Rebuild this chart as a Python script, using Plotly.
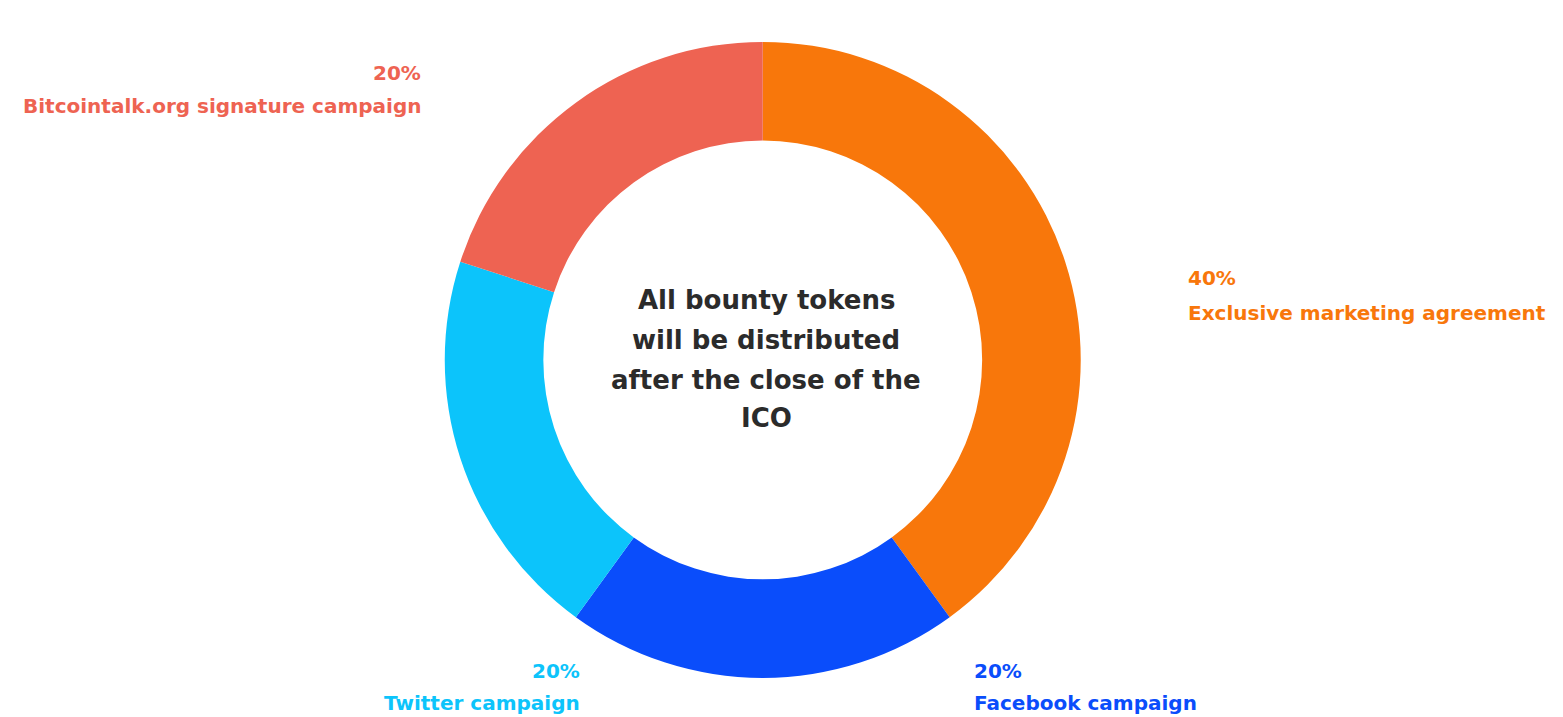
import plotly.graph_objects as go

labels = ["Exclusive marketing agreement", "Facebook campaign", "Twitter campaign", "Bitcointalk.org signature campaign"]
values = [40, 20, 20, 20]
colors = ["#F8770B", "#0A4DFB", "#0CC4FB", "#EE6352"]
center_lines = ["All bounty tokens", "will be distributed", "after the close of the", "ICO"]

W, H = 1563, 717
FONT = "DejaVu Sans"

fig = go.Figure()
fig.add_trace(go.Pie(
    labels=labels, values=values, hole=0.69, sort=False, direction="clockwise",
    rotation=0, marker=dict(colors=colors, line=dict(width=0)),
    textinfo="none", hoverinfo="label+percent", showlegend=False,
    domain=dict(x=[0.2, 0.776], y=[0.0545, 0.9415]),
))

# label annotations: (x px, y px of percent, y px of name, anchor)
label_pos = [
    (1186, 278, 313, "left"),
    (972, 671, 703, "left"),
    (582, 671, 703, "right"),
    (423, 73, 106, "right"),
]
for (lab, val, col, (xp, yp1, yp2, anc)) in zip(labels, values, colors, label_pos):
    fig.add_annotation(x=xp / W, y=1 - yp1 / H, xref="paper", yref="paper",
                       text=f"<b>{val}%</b>", showarrow=False, xanchor=anc, yanchor="middle",
                       font=dict(family=FONT, size=20, color=col))
    fig.add_annotation(x=xp / W, y=1 - yp2 / H, xref="paper", yref="paper",
                       text=f"<b>{lab}</b>", showarrow=False, xanchor=anc, yanchor="middle",
                       font=dict(family=FONT, size=20, color=col))

center_y = [300, 340, 380, 418]
for line, yp in zip(center_lines, center_y):
    fig.add_annotation(x=766 / W, y=1 - yp / H, xref="paper", yref="paper",
                       text=f"<b>{line}</b>", showarrow=False, xanchor="center", yanchor="middle",
                       font=dict(family=FONT, size=26, color="#2B2B2B"))

fig.update_layout(width=W, height=H, margin=dict(l=0, r=0, t=0, b=0),
                  paper_bgcolor="white", plot_bgcolor="white")
fig.write_html("out.html", config={"displayModeBar": False},
               post_script="document.body.style.margin='0';")
